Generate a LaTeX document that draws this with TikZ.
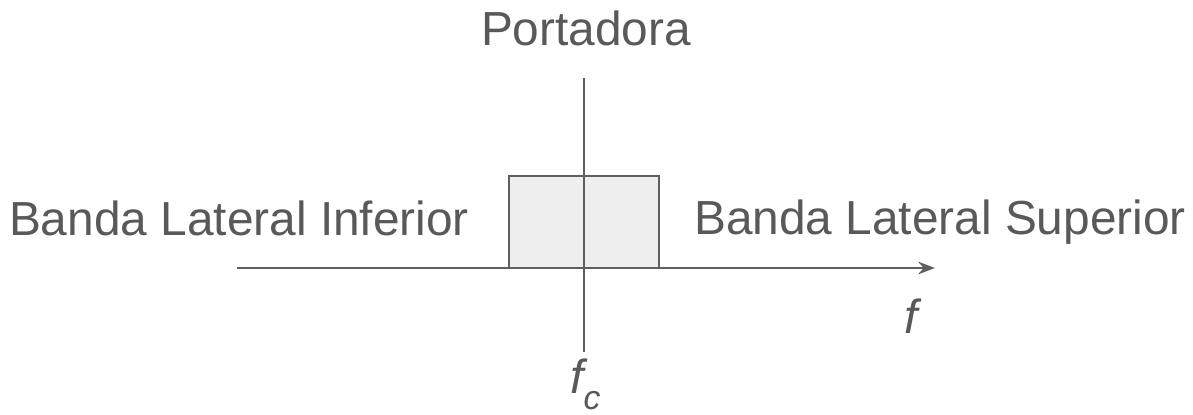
\documentclass[tikz,border=0pt]{standalone}
\usepackage{fontspec}
\setmainfont{Liberation Sans}
\usetikzlibrary{arrows.meta}

\definecolor{linegray}{HTML}{5F5F5F}
\definecolor{textgray}{HTML}{595959}
\definecolor{boxgray}{HTML}{EEEEEE}

\tikzset{
  label/.style={text=textgray, font=\fontsize{34}{40}\selectfont, inner sep=0pt, anchor=base},
  axis/.style={draw=linegray, line width=1.6pt},
  band/.style={draw=linegray, line width=1.6pt, fill=boxgray}
}

\begin{document}
\begin{tikzpicture}[x=0.025cm, y=-0.025cm]
\useasboundingbox (0,0) rectangle (1193,415);

% spectrum block around the carrier
\draw[band] (509,176) rectangle (659,268);

\coordinate (fmin) at (237,268);
\coordinate (fmax) at (935,268);
\coordinate (ctop) at (584,78);

\node[label] (carrier) at (586,45) {Portadora};
\node[label] (lsb) at (239,235) {Banda Lateral Inferior};
\node[label] (usb) at (940,234) {Banda Lateral Superior};
\node[label, font=\fontsize{34}{40}\selectfont\itshape] (f) at (911,333) {f};
\node[label, font=\fontsize{34}{40}\selectfont\itshape, anchor=base west] (fc) at (570,393)
  {f\raisebox{-0.34em}{\fontsize{24}{28}\selectfont c}};

% frequency axis and carrier line
\draw[axis, -{Stealth[length=12pt, width=9pt, inset=4pt]}] (fmin) -- (fmax);
\draw[axis, shorten >=4pt] (ctop) -- (ctop |- fc.north);
\end{tikzpicture}
\end{document}
